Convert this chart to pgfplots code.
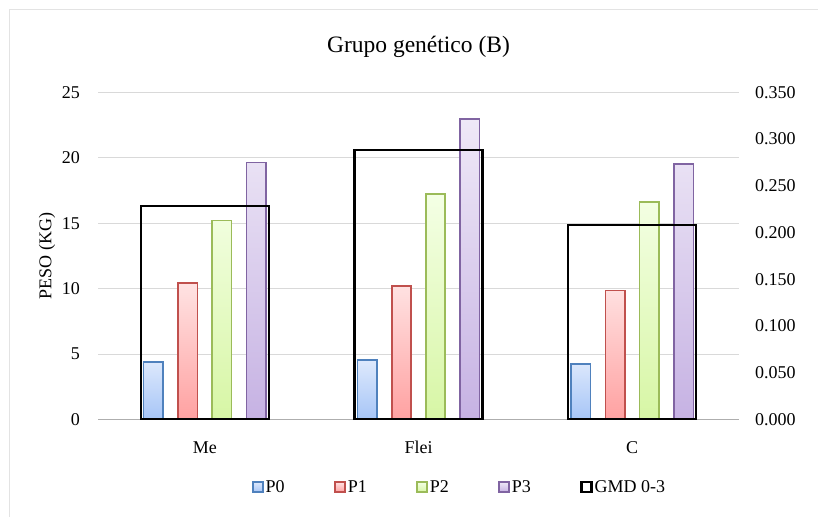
\documentclass[border=0pt]{standalone}
\usepackage{fontspec}
\setmainfont{Liberation Serif}
\usepackage{pgfplots}
\usepackage{pgfplotstable}
\pgfplotsset{compat=1.18}

\definecolor{bP0}{HTML}{4F81BD}\definecolor{tP0}{HTML}{DEE9FC}\definecolor{uP0}{HTML}{A6C5F7}
\definecolor{bP1}{HTML}{C0504D}\definecolor{tP1}{HTML}{FFE3E3}\definecolor{uP1}{HTML}{FFA1A1}
\definecolor{bP2}{HTML}{9BBB59}\definecolor{tP2}{HTML}{F4FFE5}\definecolor{uP2}{HTML}{D7F6A5}
\definecolor{bP3}{HTML}{8064A2}\definecolor{tP3}{HTML}{EFE9F7}\definecolor{uP3}{HTML}{C6B2E3}
\definecolor{gridgray}{HTML}{D9D9D9}
\definecolor{framegray}{HTML}{E3E3E3}

% weight per period and GMD 0-3 per genetic group
\pgfplotstableread{
x P0 P1 P2 P3 GMD
0 4.40 10.45 15.20 19.65 0.228
1 4.55 10.20 17.25 22.95 0.288
2 4.25 9.85 16.60 19.50 0.208
}\datatable

\newcommand{\lblfont}{\fontsize{18bp}{20bp}\selectfont}

\pgfplotsset{
  common/.style={
    scale only axis,
    width=641bp, height=327.2bp,
    xmin=-0.5, xmax=2.5,
    ymin=0,
    at={(98bp,97.5bp)}, anchor=south west,
    ybar, bar width=0.0913,
    tick style={draw=none},
    /pgf/number format/assume math mode=true,
    ticklabel style={font=\lblfont},
  },
  bars/.style={draw=b#1, line width=1.6bp, top color=t#1, bottom color=u#1},
}

\begin{document}
\begin{tikzpicture}
\useasboundingbox (0,0) rectangle (818bp,517bp);
\draw[framegray, line width=1bp] (9bp,0) -- (9bp,507bp) -- (818bp,507bp);

\begin{axis}[common,
  ymax=25, ytick={0,5,...,25},
  axis x line*=bottom, axis y line*=left,
  y axis line style={draw=none},
  x axis line style={draw=gridgray!80!black, line width=1bp, -},
  ymajorgrids, grid style={draw=gridgray, line width=1bp},
  xtick={0,1,2}, xticklabels={Me,Flei,C},
  xticklabel style={anchor=base, yshift=-30bp, inner sep=0pt},
  yticklabel style={inner sep=0pt, xshift=-18bp},
  ylabel={PESO (KG)},
  ylabel style={font=\lblfont, at={(axis description cs:-0.0796,0.5)}, anchor=center},
  title={Grupo genético (B)},
  title style={font=\fontsize{23.5bp}{26bp}\selectfont, at={(axis description cs:0.5,1.122)}, anchor=center},
  legend columns=5,
  legend style={draw=none, fill=none, inner sep=0pt, font=\lblfont,
    at={(axis description cs:0.24,-0.206)}, anchor=west,
    /tikz/every even column/.append style={column sep=47.5bp},
    nodes={inner sep=2bp}},
  legend image code/.code={\draw[#1] (0bp,-5bp) rectangle (10bp,5bp);},
]
\addplot[bars=P0, bar shift=-0.2406] table[x=x, y=P0] {\datatable};
\addplot[bars=P1, bar shift=-0.0796] table[x=x, y=P1] {\datatable};
\addplot[bars=P2, bar shift=0.0796] table[x=x, y=P2] {\datatable};
\addplot[bars=P3, bar shift=0.2406] table[x=x, y=P3] {\datatable};
\addlegendentry{P0}
\addlegendentry{P1}
\addlegendentry{P2}
\addlegendentry{P3}
\addlegendimage{draw=black, line width=2.2bp, fill=none}
\addlegendentry{GMD 0-3}
\end{axis}

\begin{axis}[common,
  ymax=0.35, ytick={0,0.05,...,0.35},
  axis x line=none, axis y line*=right,
  y axis line style={draw=none},
  xtick=\empty,
  yticklabel style={inner sep=0pt, xshift=16bp, anchor=west,
    /pgf/number format/.cd, fixed, fixed zerofill, precision=3},
  bar width=0.599,
]
\addplot[draw=black, line width=2.2bp, fill=none, bar shift=0] table[x=x, y=GMD] {\datatable};
\end{axis}
\end{tikzpicture}
\end{document}
